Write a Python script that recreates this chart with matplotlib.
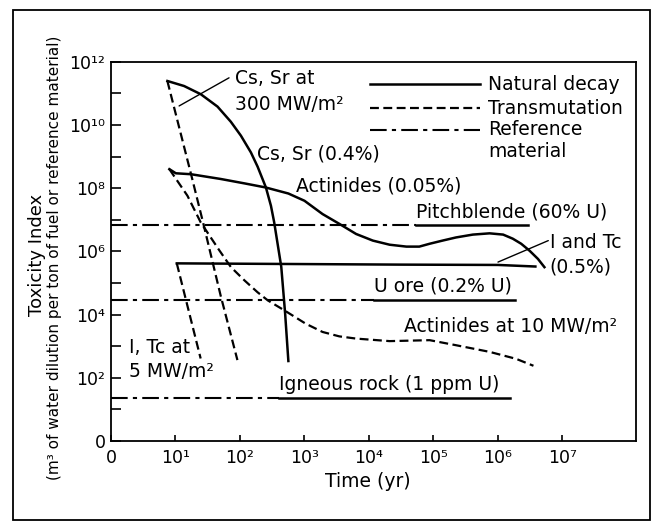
import matplotlib
matplotlib.use('Agg')
import numpy as np
import matplotlib.pyplot as plt
from matplotlib.patches import Rectangle

plt.rcParams['font.family'] = ['DejaVu Sans']

# all values are log10(time in yr) and log10(toxicity index)
cs_sr_decay_t = [0.874, 1.134, 1.393, 1.651, 1.858, 2.014, 2.169, 2.273, 2.402, 2.48, 2.53, 2.64, 2.70, 2.75]
cs_sr_decay_y = [11.39, 11.23, 10.97, 10.58, 10.10, 9.66, 9.13, 8.68, 8.02, 7.44, 6.92, 5.51, 4.03, 2.53]

cs_sr_trans_t = [0.874, 1.24, 1.44, 1.70, 1.96]
cs_sr_trans_y = [11.39, 8.45, 6.81, 4.60, 2.56]

act_decay_t = [0.905, 1.005, 1.24, 1.70, 2.07, 2.40, 2.75, 3.0, 3.28, 3.54, 3.80, 4.06, 4.32, 4.58, 4.78,
               4.94, 5.14, 5.35, 5.61, 5.87, 6.08, 6.23, 6.36, 6.49, 6.62, 6.72]
act_decay_y = [8.60, 8.47, 8.44, 8.29, 8.15, 8.02, 7.83, 7.60, 7.18, 6.87, 6.55, 6.34, 6.21, 6.15, 6.15,
               6.24, 6.34, 6.44, 6.53, 6.57, 6.53, 6.40, 6.24, 6.02, 5.76, 5.50]

act_trans_t = [0.905, 1.185, 1.39, 1.68, 1.86, 2.07, 2.27, 2.43, 2.69, 3.02, 3.28, 3.54, 3.80, 4.32, 4.94,
               5.35, 5.87, 6.28, 6.55]
act_trans_y = [8.60, 7.76, 6.92, 6.03, 5.50, 5.08, 4.71, 4.45, 4.13, 3.71, 3.45, 3.31, 3.24, 3.16, 3.19,
               3.03, 2.82, 2.60, 2.38]

itc_decay_t = [1.02, 4.5, 6.0, 6.58]
itc_decay_y = [5.62, 5.58, 5.57, 5.52]

itc_trans_t = [1.02, 1.39]
itc_trans_y = [5.62, 2.61]

# reference materials: level, end of dash-dot part, end of line
ref_names = ['Pitchblende (60% U)', 'U ore (0.2% U)', 'Igneous rock (1 ppm U)']
ref_level = [6.84, 4.47, 1.36]
ref_split = [4.73, 4.08, 2.61]
ref_end = [6.46, 6.27, 6.18]

x_ticks = [0, 1, 2, 3, 4, 5, 6, 7]
x_labels = ['0', '10¹', '10²', '10³', '10⁴', '10⁵', '10⁶', '10⁷']
y_ticks = list(range(13))
y_labels = ['0', '', '10²', '', '10⁴', '', '10⁶', '', '10⁸', '', '10¹⁰', '', '10¹²']

FS = 13.5
dashed = dict(color='black', lw=1.6, dashes=(4, 2))
dashdot = dict(color='black', lw=1.5, dashes=(8, 2.5, 2, 2.5))
solid = dict(color='black', lw=1.8)


def curve(t, y, **kw):
    ax.plot(10 ** np.array(t), 10 ** np.array(y), **kw)


def label(lt, ly, s, **kw):
    ax.text(10 ** lt, 10 ** ly, s, ha='left', va='center', fontsize=FS, **kw)


fig = plt.figure(figsize=(6.61, 5.27), dpi=100)
ax = fig.add_axes([111 / 661, 1 - 441 / 527, 525 / 661, 379.3 / 527])
ax.set_xscale('log')
ax.set_yscale('log')
ax.set_xlim(1, 10 ** 8.14)
ax.set_ylim(1, 1e12)

curve(cs_sr_decay_t, cs_sr_decay_y, **solid)
curve(act_decay_t, act_decay_y, **solid)
curve(itc_decay_t, itc_decay_y, **solid)
curve(cs_sr_trans_t, cs_sr_trans_y, **dashed)
curve(act_trans_t, act_trans_y, **dashed)
curve(itc_trans_t, itc_trans_y, **dashed)

for lvl, sp, end in zip(ref_level, ref_split, ref_end):
    curve([0, sp], [lvl, lvl], **dashdot)
    curve([sp, end], [lvl, lvl], **solid)

# labels
label(1.925, 11.47, 'Cs, Sr at')
label(1.925, 10.65, '300 MW/m²')
ax.annotate('', xy=(10 ** 1.056, 10 ** 10.6), xytext=(10 ** 1.83, 10 ** 11.49),
            arrowprops=dict(arrowstyle='-', lw=1.0, color='black', shrinkA=0, shrinkB=0))
label(2.27, 9.08, 'Cs, Sr (0.4%)')
label(2.87, 8.08, 'Actinides (0.05%)')
label(6.80, 6.29, 'I and Tc')
label(6.80, 5.52, '(0.5%)')
ax.annotate('', xy=(10 ** 6.0, 10 ** 5.66), xytext=(10 ** 6.78, 10 ** 6.34),
            arrowprops=dict(arrowstyle='-', lw=1.0, color='black', shrinkA=0, shrinkB=0))
label(4.55, 3.61, 'Actinides at 10 MW/m²')
label(0.28, 2.97, 'I, Tc at')
label(0.28, 2.19, '5 MW/m²')
for name, lvl, sp in zip(ref_names, ref_level, ref_split):
    label(sp, lvl + 0.42, name)

# legend drawn by hand
ax.plot([0.493, 0.703], [0.941, 0.941], transform=ax.transAxes, **solid)
ax.plot([0.493, 0.703], [0.877, 0.877], transform=ax.transAxes, **dashed)
ax.plot([0.493, 0.703], [0.820, 0.820], transform=ax.transAxes, **dashdot)
for yy, s in [(0.941, 'Natural decay'), (0.877, 'Transmutation'), (0.820, 'Reference'), (0.763, 'material')]:
    ax.text(0.719, yy, s, transform=ax.transAxes, ha='left', va='center', fontsize=FS)

# axes and ticks
ax.minorticks_off()
ax.set_xticks([10 ** k for k in x_ticks])
ax.set_xticklabels(x_labels)
ax.set_yticks([10 ** k for k in y_ticks])
ax.set_yticklabels(y_labels)
ax.tick_params(axis='y', direction='in', length=7, width=1.2, pad=4, labelsize=12.5)
ax.tick_params(axis='x', direction='in', length=4, width=1.2, pad=6, labelsize=12.5)
for sp in ax.spines.values():
    sp.set_linewidth(1.3)

ax.set_xlabel('Time (yr)', fontsize=FS)
ax.xaxis.set_label_coords(0.49, -0.082)
fig.text(37 / 661, 1 - 255 / 527, 'Toxicity Index', rotation=90, ha='center', va='center', fontsize=13)
fig.text(55 / 661, 1 - 257.5 / 527, '(m³ of water dilution per ton of fuel or reference material)',
         rotation=90, ha='center', va='center', fontsize=11)

fig.patches.append(Rectangle((12.7 / 661, 1 - 519.6 / 527), (650 - 12.7) / 661, 510 / 527,
                             transform=fig.transFigure, fill=False, lw=1.3, ec='black'))

fig.savefig('out.png', dpi=100)
